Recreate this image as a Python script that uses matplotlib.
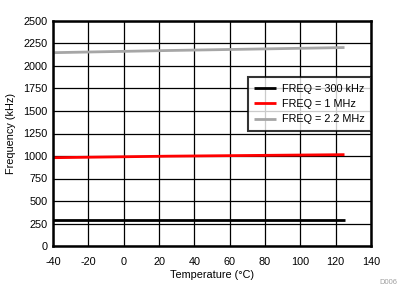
import matplotlib
matplotlib.use("Agg")
import matplotlib.pyplot as plt

temp_300k = [-40, 125]
freq_300k = [293, 293]
temp_1m = [-40, 25, 125]
freq_1m = [981, 998, 1015]
temp_2m2 = [-40, 25, 125]
freq_2m2 = [2148, 2172, 2205]
labels = ["FREQ = 300 kHz", "FREQ = 1 MHz", "FREQ = 2.2 MHz"]
colors = ["#000000", "#FF0000", "#A6A6A6"]

plt.rcParams['font.family'] = ['Liberation Sans', 'DejaVu Sans']
plt.rcParams['axes.unicode_minus'] = False
fs = 7.8
fig = plt.figure(figsize=(4.09, 3.05), dpi=100)
ax = fig.add_axes([53/409, 1-246/305, (371-53)/409, (246-21)/305])

for t, f, lab, c in zip([temp_300k, temp_1m, temp_2m2], [freq_300k, freq_1m, freq_2m2], labels, colors):
    ax.plot(t, f, color=c, lw=2, label=lab, solid_capstyle='butt')

ax.set_xlim(-40, 140)
ax.set_ylim(0, 2500)
ax.set_xticks(range(-40, 141, 20))
ax.set_yticks(range(0, 2501, 250))
ax.grid(True, color='black', lw=0.9)
ax.set_axisbelow(True)
ax.tick_params(axis='x', length=0, labelsize=fs, pad=8)
ax.tick_params(axis='y', length=0, labelsize=fs, pad=4)
for s in ax.spines.values():
    s.set_linewidth(1.8)
ax.set_xlabel("Temperature (°C)", fontsize=fs, labelpad=2)
ax.set_ylabel("Frequency (kHz)", fontsize=fs, labelpad=5)
leg = ax.legend(loc='upper right', bbox_to_anchor=(1.0, (246-77)/225), fontsize=fs, frameon=True,
                fancybox=False, edgecolor='black', handlelength=2.0, handletextpad=0.55,
                borderpad=0.6, labelspacing=0.5, borderaxespad=0)
leg.get_frame().set_linewidth(1.5)
fig.text(388/409, 1-282/305, "D006", fontsize=5.5, color='#A0A0A0', ha='center', va='center')
fig.savefig("out.png", dpi=100)
